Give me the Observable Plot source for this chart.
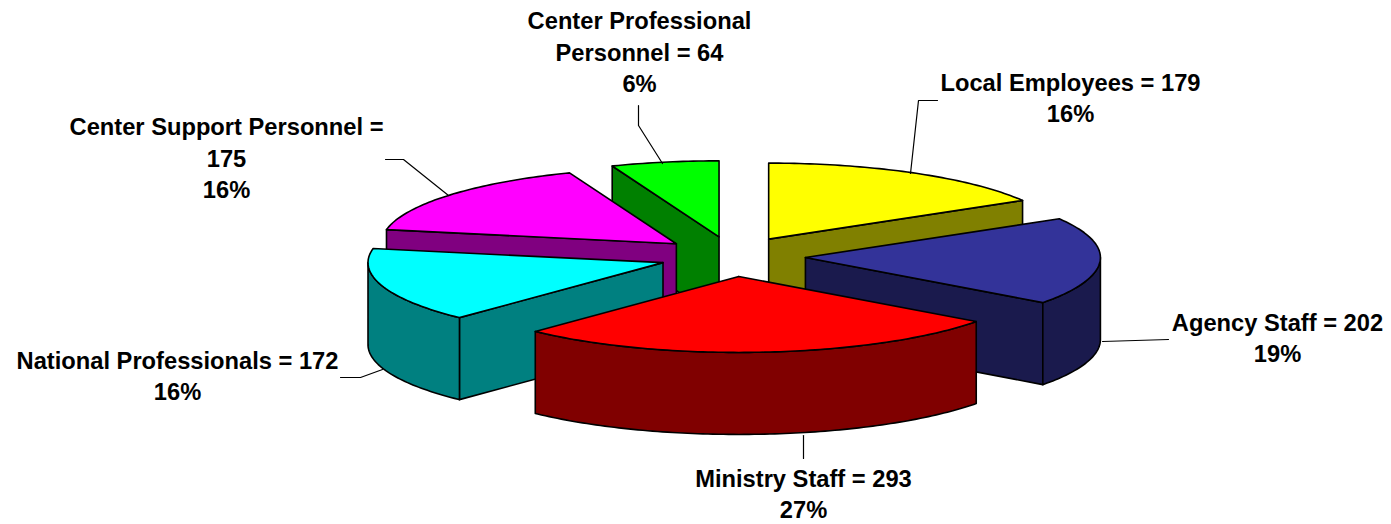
<!DOCTYPE html>
<html>
<head>
<meta charset="utf-8">
<style>html,body{margin:0;padding:0;background:#fff}svg{display:block}</style>
<script src="https://cdn.jsdelivr.net/npm/d3@7"></script>
<script src="https://cdn.jsdelivr.net/npm/@observablehq/plot@0.6"></script>
</head>
<body>
<script>
const categories = ["Local Employees","Agency Staff","Ministry Staff","National Professionals","Center Support Personnel","Center Professional Personnel"];
const values = [179,202,293,172,175,64];
const labelLines = [
  "Local Employees = 179",
  "Agency Staff = 202",
  "Ministry Staff = 293",
  "National Professionals = 172",
  "Center Support Personnel =\n175",
  "Center Professional\nPersonnel = 64"
];
const topColors = ["#ffff00","#333399","#ff0000","#00ffff","#ff00ff","#00ff00"];
const sideColors = ["#808000","#1a1a4d","#800000","#008080","#800080","#008000"];
const paintOrder = [0,5,4,1,3,2];

// pie geometry
const W = 1391, H = 524;
const cx = 732, cy = 256, rx = 295, ry = 76, depth = 82, ex = 73, ey = 20;

// label layout
const labelX = [1070,1277,803,177,226,639];
const labelY = [98,338,494,376,158,52];
const leaderX = [[910,918,937],[1102,1168],[803,803],[382,360,340],[448,403,385],[662,638,638]];
const leaderY = [[173,100,100],[341,339],[435,458],[369,377,377],[195,159,159],[163,125,105]];

const total = d3.sum(values);
const rad = d => d * Math.PI / 180;
let acc = 0;
const slices = values.map((v,i) => {
  const a0 = acc / total * 360; acc += v; const a1 = acc / total * 360;
  const mid = rad((a0 + a1) / 2);
  return {i, a0, a1, ax: cx + ex * Math.sin(mid), ay: cy - ey * Math.cos(mid)};
});
const rim = (s, a, dz = 0) => ({x: s.ax + rx * Math.sin(rad(a)), y: s.ay - ry * Math.cos(rad(a)) + dz});
const arcAngles = (a0, a1) => { const out = d3.range(Math.ceil(a0), a1, 1); if (out[0] !== a0) out.unshift(a0); out.push(a1); return out; };
const closed = pts => [...pts, pts[0]];
const poly = (pts, fill) => Plot.line(closed(pts), {x:"x", y:"y", fill, stroke:"#000", strokeWidth:1.6, strokeLinejoin:"round", curve:"linear"});

const marks = [];
for (const k of paintOrder) {
  const s = slices[k], side = sideColors[k], apex = {x:s.ax, y:s.ay}, apexLow = {x:s.ax, y:s.ay+depth};
  // cut faces turned toward the viewer
  for (const [a, phi] of [[s.a0, s.a0 - 90],[s.a1, s.a1 + 90]]) {
    if (Math.cos(rad(phi)) < -1e-6) marks.push(poly([apex, rim(s,a), rim(s,a,depth), apexLow], side));
  }
  // outer wall (front half of the rim)
  const lo = Math.max(s.a0, 90), hi = Math.min(s.a1, 270);
  if (hi > lo) {
    const as = arcAngles(lo, hi);
    marks.push(poly([...as.map(a => rim(s,a)), ...as.slice().reverse().map(a => rim(s,a,depth))], side));
  }
  // top
  marks.push(poly([apex, ...arcAngles(s.a0, s.a1).map(a => rim(s,a))], topColors[k]));
}
// leaders
leaderX.forEach((xs,i) => marks.push(Plot.line(xs.map((x,j) => ({x, y:leaderY[i][j]})), {x:"x", y:"y", stroke:"#000", strokeWidth:1.2, curve:"linear"})));
// labels
const labelData = categories.map((c,i) => ({
  text: `${labelLines[i]}\n${Math.round(values[i] / total * 100)}%`, x: labelX[i], y: labelY[i]
}));
marks.push(Plot.text(labelData, {x:"x", y:"y", text:"text", textAnchor:"middle", lineAnchor:"middle", lineHeight:1.33, fontSize:23.7, fontWeight:"bold", fontFamily:"'Liberation Sans', Arial, sans-serif", fill:"#000", dy:-2}));

document.body.appendChild(Plot.plot({
  width: W, height: H, margin: 0,
  x: {domain:[0,W], range:[0,W], axis:null},
  y: {domain:[0,H], range:[0,H], axis:null},
  style: {background:"#fff", overflow:"visible"},
  marks
}));
</script>
</body>
</html>
